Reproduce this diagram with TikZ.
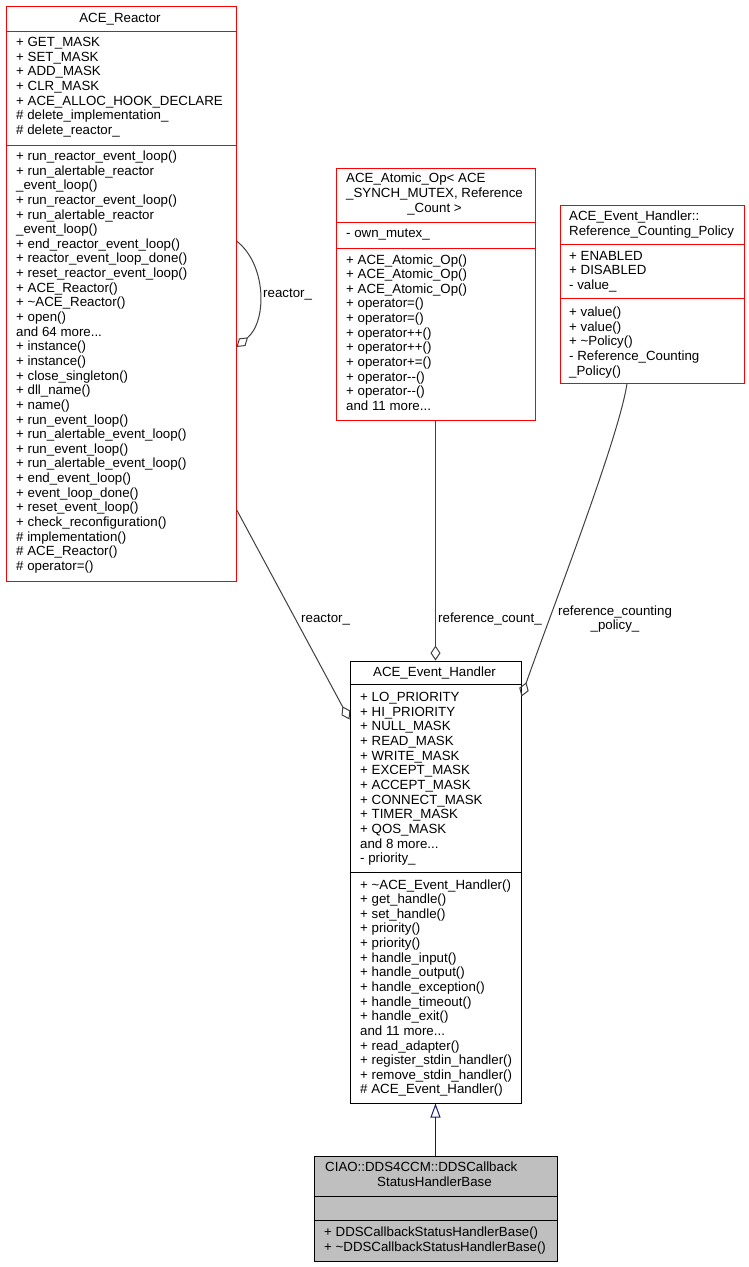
\documentclass[tikz,border=0pt]{standalone}
\usepackage{fontspec}
\setmainfont{Liberation Sans}
\usetikzlibrary{arrows.meta}
\definecolor{edgegray}{HTML}{404040}
\definecolor{focusgray}{HTML}{BFBFBF}
\definecolor{inhblue}{HTML}{191970}
\definecolor{classred}{HTML}{FF0000}

\tikzset{
  redclass/.style={draw=classred, fill=white, line width=1pt, anchor=north west, inner sep=0pt},
  plainclass/.style={draw=black, fill=white, line width=1pt, anchor=north west, inner sep=0pt},
  focusclass/.style={draw=black, fill=focusgray, line width=1pt, anchor=north west, inner sep=0pt},
  redsep/.style={draw=classred, line width=1pt},
  blacksep/.style={draw=black, line width=1pt},
  member/.style={anchor=base west, inner sep=0pt},
  heading/.style={anchor=base, inner sep=0pt},
  elabel/.style={anchor=base west, inner sep=0pt},
  aggr/.style={draw=edgegray, line width=1pt, -{Diamond[open, length=15pt, width=10pt]}},
  inherit/.style={draw=inhblue, line width=1pt, {Triangle[open, length=14pt, width=10pt]}-}
}

\begin{document}
\begin{tikzpicture}[x=1pt, y=-1pt, every node/.style={font=\fontsize{13.3}{14.64}\selectfont}]
  \useasboundingbox (0,0) rectangle (748,1267);
  \fill[white] (0,0) rectangle (748,1267);

  % Class boxes
  \node[redclass, minimum width=230pt, minimum height=575pt] (reactor) at (5.5,5.5) {};
  \node[redclass, minimum width=199pt, minimum height=252pt] (atomic) at (335.5,167.5) {};
  \node[redclass, minimum width=184pt, minimum height=178pt] (policy) at (559.5,204.5) {};
  \node[plainclass, minimum width=171pt, minimum height=442pt] (handler) at (349.5,660.5) {};
  \node[focusclass, minimum width=243pt, minimum height=105pt] (ciao) at (313.5,1155.5) {};

  % Compartment separators
  \draw[redsep] (reactor.west |- 0,31.5) -- (reactor.east |- 0,31.5);
  \draw[redsep] (reactor.west |- 0,145.5) -- (reactor.east |- 0,145.5);
  \draw[redsep] (atomic.west |- 0,222.5) -- (atomic.east |- 0,222.5);
  \draw[redsep] (atomic.west |- 0,248.5) -- (atomic.east |- 0,248.5);
  \draw[redsep] (policy.west |- 0,244.5) -- (policy.east |- 0,244.5);
  \draw[redsep] (policy.west |- 0,298.5) -- (policy.east |- 0,298.5);
  \draw[blacksep] (handler.west |- 0,684.5) -- (handler.east |- 0,684.5);
  \draw[blacksep] (handler.west |- 0,872.5) -- (handler.east |- 0,872.5);
  \draw[blacksep] (ciao.west |- 0,1196.5) -- (ciao.east |- 0,1196.5);
  \draw[blacksep] (ciao.west |- 0,1220.5) -- (ciao.east |- 0,1220.5);

  % ACE_Reactor
  \node[heading] (rtitle) at (120,22.3) {ACE\_Reactor};
  \foreach \txt [count=\i] in {+ GET\_MASK, + SET\_MASK, + ADD\_MASK, + CLR\_MASK,
      + ACE\_ALLOC\_HOOK\_DECLARE, \# delete\_implementation\_, \# delete\_reactor\_}
    \node[member] (ra\i) at (16,{46.7+14.64*(\i-1)}) {\txt};
  \foreach \txt [count=\i] in {+ run\_reactor\_event\_loop(), + run\_alertable\_reactor,
      \_event\_loop(), + run\_reactor\_event\_loop(), + run\_alertable\_reactor,
      \_event\_loop(), + end\_reactor\_event\_loop(), + reactor\_event\_loop\_done(),
      + reset\_reactor\_event\_loop(), + ACE\_Reactor(), + \textasciitilde ACE\_Reactor(),
      + open(), and 64 more.{}.{}., + instance(), + instance(), + close\_singleton(),
      + dll\_name(), + name(), + run\_event\_loop(), + run\_alertable\_event\_loop(),
      + run\_event\_loop(), + run\_alertable\_event\_loop(), + end\_event\_loop(),
      + event\_loop\_done(), + reset\_event\_loop(), + check\_reconfiguration(),
      \# implementation(), \# ACE\_Reactor(), \# operator=()}
    \node[member] (rm\i) at (16,{160.5+14.64*(\i-1)}) {\txt};

  % ACE_Atomic_Op
  \node[member] (atitle1) at (346,182.7) {ACE\_Atomic\_Op< ACE};
  \node[member] (atitle2) at (346,197.3) {\_SYNCH\_MUTEX, Reference};
  \node[heading] (atitle3) at (434.5,212) {\_Count >};
  \node[member] (aa1) at (346,237.7) {- own\_mutex\_};
  \foreach \txt [count=\i] in {+ ACE\_Atomic\_Op(), + ACE\_Atomic\_Op(), + ACE\_Atomic\_Op(),
      + operator=(), + operator=(), + operator++(), + operator++(), + operator+=(),
      + operator-{}-(), + operator-{}-(), and 11 more.{}.{}.}
    \node[member] (am\i) at (346,{264+14.64*(\i-1)}) {\txt};

  % ACE_Event_Handler::Reference_Counting_Policy
  \node[member] (ptitle1) at (569,220.7) {ACE\_Event\_Handler::};
  \node[member] (ptitle2) at (569,235.3) {Reference\_Counting\_Policy};
  \foreach \txt [count=\i] in {+ ENABLED, + DISABLED, - value\_}
    \node[member] (pa\i) at (569,{260+14.64*(\i-1)}) {\txt};
  \foreach \txt [count=\i] in {+ value(), + value(), + \textasciitilde Policy(),
      - Reference\_Counting, \_Policy()}
    \node[member] (pm\i) at (569,{316.7+14.64*(\i-1)}) {\txt};

  % ACE_Event_Handler
  \node[heading] (htitle) at (434.5,676.7) {ACE\_Event\_Handler};
  \foreach \txt [count=\i] in {+ LO\_PRIORITY, + HI\_PRIORITY, + NULL\_MASK, + READ\_MASK,
      + WRITE\_MASK, + EXCEPT\_MASK, + ACCEPT\_MASK, + CONNECT\_MASK, + TIMER\_MASK,
      + QOS\_MASK, and 8 more.{}.{}., - priority\_}
    \node[member] (ha\i) at (360,{701.7+14.64*(\i-1)}) {\txt};
  \foreach \txt [count=\i] in {+ \textasciitilde ACE\_Event\_Handler(), + get\_handle(),
      + set\_handle(), + priority(), + priority(), + handle\_input(), + handle\_output(),
      + handle\_exception(), + handle\_timeout(), + handle\_exit(), and 11 more.{}.{}.,
      + read\_adapter(), + register\_stdin\_handler(), + remove\_stdin\_handler(),
      \# ACE\_Event\_Handler()}
    \node[member] (hm\i) at (360,{889+14.64*(\i-1)}) {\txt};

  % CIAO::DDS4CCM::DDSCallbackStatusHandlerBase
  \node[member] (ctitle1) at (325,1171.7) {CIAO::DDS4CCM::DDSCallback};
  \node[heading] (ctitle2) at (434.5,1186.3) {StatusHandlerBase};
  \node[member] (cm1) at (324,1236.7) {+ DDSCallbackStatusHandlerBase()};
  \node[member] (cm2) at (324,1251.3) {+ \textasciitilde DDSCallbackStatusHandlerBase()};

  % Edges
  \draw[aggr] ([yshift=52.5pt]reactor.east) .. controls +(30,23) and +(31,-26) .. ([yshift=-53.5pt]reactor.east);
  \draw[aggr] ([yshift=72pt]reactor.south east) -- ([yshift=-59pt]handler.north west);
  \draw[aggr] (atomic.south) -- (handler.north);
  \draw[aggr] ([xshift=-25pt]policy.south) .. controls +(-8,55) and +(26,-75) .. ([yshift=-36pt]handler.north east);
  \draw[inherit] (handler.south) -- (ciao.north);

  % Edge labels
  \node[elabel] (lself) at (263,297) {reactor\_};
  \node[elabel] (lreactor) at (301,622) {reactor\_};
  \node[elabel] (lcount) at (438,622) {reference\_count\_};
  \node[heading, align=center, anchor=north] (lpolicy) at (615,605.3) {reference\_counting\\\_policy\_};
\end{tikzpicture}
\end{document}
